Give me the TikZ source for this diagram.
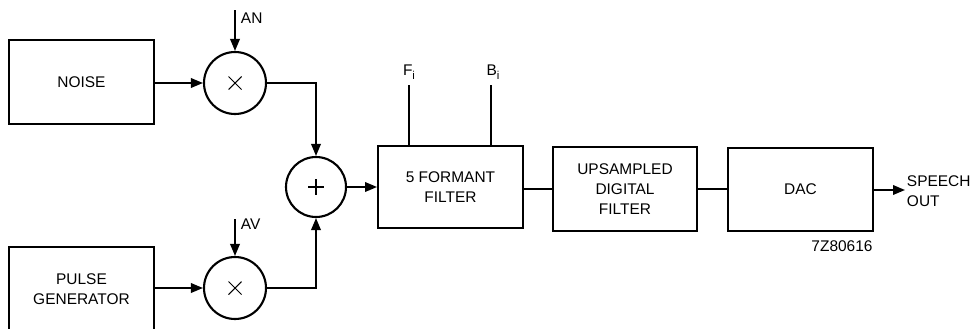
\documentclass[tikz,border=0pt]{standalone}
\usepackage{fontspec}
\setmainfont{Liberation Sans}
\usetikzlibrary{arrows.meta}
\newcommand{\subi}{\raisebox{-0.45ex}{\fontsize{6.5}{7}\selectfont i}}
\begin{document}
\begin{tikzpicture}[x=0.02cm,y=-0.02cm,
  font=\fontsize{8.8}{11.3}\selectfont,
  line width=1.1pt,
  arr/.style={-{Triangle[length=0.24cm,width=0.19cm]}},
  blk/.style={draw,rectangle,inner sep=0pt,minimum width=2.9cm,align=center},
  opc/.style={draw,circle,inner sep=0pt,line width=1.2pt},
  lbl/.style={inner sep=0pt,anchor=west}]
\useasboundingbox (0,0) rectangle (972,328);
\clip (0,0) rectangle (972,328);
% blocks
\node[blk,minimum height=1.68cm] (noise) at (81.5,82) {NOISE};
\node[blk,minimum height=1.68cm] (pulse) at (81.5,289) {PULSE\\GENERATOR};
\node[blk,minimum height=1.64cm] (formant) at (450.5,187) {5 FORMANT\\FILTER};
\node[blk,minimum width=2.88cm,minimum height=1.68cm] (ups) at (625,189) {UPSAMPLED\\DIGITAL\\FILTER};
\node[blk,minimum height=1.66cm] (dac) at (800.5,189.5) {DAC};
% operators
\node[opc,minimum size=1.24cm] (mul1) at (235,83) {};
\node[opc,minimum size=1.24cm] (mul2) at (235,288) {};
\node[opc,minimum size=1.2cm] (add) at (316,187) {};
\foreach \m in {mul1,mul2}{
  \draw[line width=0.6pt] ([shift={(-6.5,-6.5)}]\m.center) -- ([shift={(6.5,6.5)}]\m.center);
  \draw[line width=0.6pt] ([shift={(-6.5,6.5)}]\m.center) -- ([shift={(6.5,-6.5)}]\m.center);
}
\draw[line width=0.6pt] ([shift={(-8,0)}]add.center) -- ([shift={(8,0)}]add.center);
\draw[line width=0.6pt] ([shift={(0,-8)}]add.center) -- ([shift={(0,8)}]add.center);
% control inputs
\coordinate (an) at (235,10);
\coordinate (av) at (235,219);
\coordinate (fi) at (409,85);
\coordinate (bi) at (491,85);
\coordinate (out) at (905,190);
\node[lbl] (anl) at (240,18) {AN};
\node[lbl] (avl) at (240,224) {AV};
\node[inner sep=0pt] (fil) at (409,72) {F\subi};
\node[inner sep=0pt] (bil) at (493,72) {B\subi};
\node[lbl,align=left] (spl) at (906,191) {SPEECH\\OUT};
\node[inner sep=0pt] (code) at (842,246) {7Z80616};
% connectors
\draw[arr] (an) -- (mul1.north);
\draw[arr] (av) -- (mul2.north);
\draw[arr] (noise.east |- mul1.west) -- (mul1.west);
\draw[arr] (pulse.east |- mul2.west) -- (mul2.west);
\draw[arr] (mul1.east) -| (add.north);
\draw[arr] (mul2.east) -| (add.south);
\draw[arr] (add.east) -- (add.east -| formant.west);
\draw (fi) -- (fi |- formant.north);
\draw (bi) -- (bi |- formant.north);
\draw (ups.west -| formant.east) -- (ups.west);
\draw (ups.east) -- (ups.east -| dac.west);
\draw[arr] (dac.east |- out) -- (out);
\end{tikzpicture}
\end{document}
